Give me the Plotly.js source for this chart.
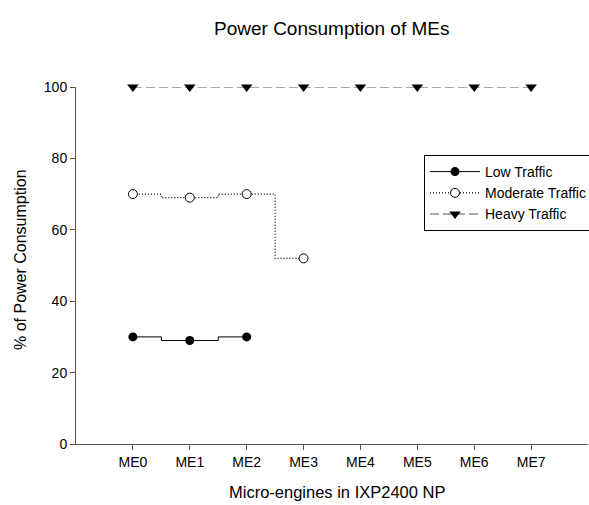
<!DOCTYPE html>
<html>
<head>
<meta charset="utf-8">
<script src="https://cdn.plot.ly/plotly-3.0.1.min.js"></script>
<style>html,body{margin:0;padding:0;background:#fff;}#chart{width:589px;height:505px;}</style>
</head>
<body>
<div id="chart"></div>
<script>
const categories = ["ME0", "ME1", "ME2", "ME3", "ME4", "ME5", "ME6", "ME7"];
const lowTraffic = [30, 29, 30];
const moderateTraffic = [70, 69, 70, 52];
const heavyTraffic = [100, 100, 100, 100, 100, 100, 100, 100];
const yTicks = [0, 20, 40, 60, 80, 100];

const idx = n => categories.slice(0, n).map((_, i) => i);
const FONT = "Liberation Sans, Arial, sans-serif";

const traces = [
  {
    name: "Low Traffic", x: idx(lowTraffic.length), y: lowTraffic,
    mode: "lines+markers", line: {color: "#000", width: 1, shape: "hvh"},
    marker: {symbol: "circle", size: 9, color: "#000"}, cliponaxis: false
  },
  {
    name: "Moderate Traffic", x: idx(moderateTraffic.length), y: moderateTraffic,
    mode: "lines+markers", line: {color: "#000", width: 1.2, shape: "hvh", dash: "1px,2px"},
    marker: {symbol: "circle", size: 9, color: "#fff", line: {color: "#000", width: 1}}, cliponaxis: false
  },
  {
    name: "Heavy Traffic", x: idx(heavyTraffic.length), y: heavyTraffic,
    mode: "lines+markers", line: {color: "#555", width: 1.2, shape: "hvh", dash: "9px,4px"},
    marker: {symbol: "triangle-down", size: 10, color: "#000"}, cliponaxis: false
  }
];

const layout = {
  width: 589, height: 505,
  paper_bgcolor: "#fff", plot_bgcolor: "#fff",
  margin: {l: 76, r: 1, t: 87, b: 61, autoexpand: false},
  font: {family: FONT, color: "#000", size: 14},
  showlegend: true,
  legend: {
    x: (424 - 76) / 512, y: (444 - 155) / 357, xref: "paper", yref: "paper",
    xanchor: "left", yanchor: "top",
    bordercolor: "#000", borderwidth: 1, bgcolor: "#fff",
    font: {family: FONT, size: 14, color: "#000"},
    tracegroupgap: 0, itemwidth: 50
  },
  xaxis: {
    range: [-1, 8], tickmode: "array", tickvals: categories.map((_, i) => i), ticktext: categories,
    showgrid: false, zeroline: false, showline: true, linecolor: "#555", linewidth: 1,
    ticks: "outside", ticklen: 5, tickcolor: "#555", tickfont: {size: 14}
  },
  yaxis: {
    range: [0, 100], tickmode: "array", tickvals: yTicks,
    showgrid: false, zeroline: false, showline: true, linecolor: "#555", linewidth: 1,
    ticks: "outside", ticklen: 5, tickcolor: "#555", tickfont: {size: 14}
  },
  annotations: [
    {text: "Power Consumption of MEs", xref: "paper", yref: "paper", x: (332 - 76) / 512, y: 1, yshift: 59,
     showarrow: false, font: {size: 19}, xanchor: "center", yanchor: "middle"},
    {text: "Micro-engines in IXP2400 NP", xref: "paper", yref: "paper", x: (337 - 76) / 512, y: 0, yshift: -48,
     showarrow: false, font: {size: 16.5}, xanchor: "center", yanchor: "middle"},
    {text: "% of Power Consumption", xref: "paper", yref: "paper", x: 0, xshift: -56, y: (444 - 260) / 357,
     showarrow: false, font: {size: 16}, textangle: -90, xanchor: "center", yanchor: "middle"}
  ]
};

Plotly.newPlot("chart", traces, layout, {displayModeBar: false, staticPlot: true});
</script>
</body>
</html>
